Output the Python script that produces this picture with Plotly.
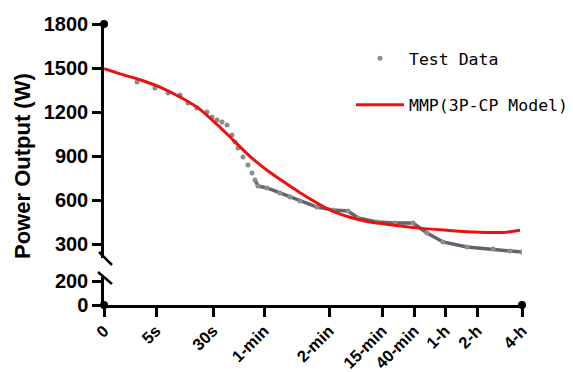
import plotly.graph_objects as go

# ---- data ----
tick_labels = ["0", "5s", "30s", "1-min", "2-min", "15-min", "40-min", "1-h", "2-h", "4-h"]
tick_pos = [0, 52, 109, 160, 225, 278, 310, 341, 373, 418]

test_x = [33, 51, 64, 76, 84, 93, 103, 108, 113, 118, 123, 128, 131, 134, 139, 144, 148, 151,
          154, 163, 176, 186, 196, 213, 229, 244, 254, 273, 291, 309, 323, 339, 363, 389, 406, 418]
test_y = [1405, 1364, 1330, 1316, 1261, 1227, 1200, 1166, 1145, 1132, 1111, 1043, 995, 955, 893, 839, 784, 736,
          695, 682, 648, 620, 593, 552, 532, 525, 477, 450, 443, 443, 375, 314, 280, 266, 252, 245]

model_x = [0, 16, 36, 56, 76, 96, 113, 129, 146, 163, 180, 196, 213, 229, 246, 263, 290, 313, 340,
           363, 385, 400, 416]
model_y = [1495, 1460, 1420, 1370, 1302, 1218, 1115, 1010, 897, 803, 722, 650, 580, 522, 482, 453, 428,
           410, 395, 384, 378, 379, 394]

upper_ticks = [300, 600, 900, 1200, 1500, 1800]
lower_ticks = [0, 200]

# ---- layout constants (page body has an 8px margin) ----
PAGE_OFF = 8
W, H = 573 - PAGE_OFF, 372 - PAGE_OFF
LEFT, RIGHT, TOP, BOTTOM = 104, 522, 24, 305          # plot box in window pixels
ML, MT = LEFT - PAGE_OFF, TOP - PAGE_OFF
MR, MB = W - (RIGHT - PAGE_OFF), H - (BOTTOM - PAGE_OFF)
PW, PH = RIGHT - LEFT, BOTTOM - TOP

def px_x(p):
    return (p - LEFT) / PW

def px_y(p):
    return (BOTTOM - p) / PH

tick_font = dict(family="Liberation Sans, Arial", size=20, color="black", weight="bold")
xtick_font = dict(family="Liberation Sans, Arial", size=16.5, color="black", weight="bold")
leg_font = dict(family="DejaVu Sans Mono, monospace", size=16.5, color="black")

fig = go.Figure()

# dense part of test data drawn as a connected line
dense_start = 17
fig.add_trace(go.Scatter(
    x=test_x[dense_start:], y=test_y[dense_start:], xaxis="x", yaxis="y2",
    mode="lines", line=dict(color="rgba(70,72,85,0.85)", width=3.5),
    showlegend=False, hoverinfo="skip"))

fig.add_trace(go.Scatter(
    x=test_x, y=test_y, xaxis="x", yaxis="y2", mode="markers",
    marker=dict(color="#8c8c8c", size=5), name="Test Data", legendgroup="a"))

fig.add_trace(go.Scatter(
    x=model_x, y=model_y, xaxis="x", yaxis="y2", mode="lines",
    line=dict(color="#ee1010", width=3, shape="spline", smoothing=0.6),
    name="MMP(3P-CP Model)", legendgroup="b"))

# axis end dots
fig.add_trace(go.Scatter(x=[0, tick_pos[-1]], y=[0, 0], xaxis="x", yaxis="y", mode="markers",
                         marker=dict(color="black", size=8), showlegend=False,
                         cliponaxis=False, hoverinfo="skip"))
fig.add_trace(go.Scatter(x=[0], y=[upper_ticks[-1]], xaxis="x", yaxis="y2", mode="markers",
                         marker=dict(color="black", size=8), showlegend=False,
                         cliponaxis=False, hoverinfo="skip"))

axis_common = dict(showline=True, linecolor="black", linewidth=2.5, ticks="outside",
                   tickcolor="black", tickwidth=2.5, ticklen=9, showgrid=False,
                   zeroline=False, automargin=False)

lower_top = 277
upper_bottom = 258

fig.update_layout(
    width=W, height=H,
    margin=dict(l=ML, r=MR, t=MT, b=MB, autoexpand=False),
    paper_bgcolor="white", plot_bgcolor="white",
    xaxis=dict(range=[0, tick_pos[-1]], tickvals=tick_pos, ticktext=tick_labels,
               tickangle=-45, tickfont=xtick_font, anchor="y", ticklabelstandoff=-2,
               **axis_common),
    yaxis=dict(domain=[0, px_y(lower_top)], range=[0, (BOTTOM - lower_top) / 0.12],
               tickvals=lower_ticks, tickfont=tick_font, anchor="x", **axis_common),
    yaxis2=dict(domain=[px_y(upper_bottom), 1],
                range=[300 - (upper_bottom - 244) * 1500 / 220, 1800],
                tickvals=upper_ticks, tickfont=tick_font, anchor="x", **axis_common),
    legend=dict(x=px_x(351), y=px_y(41), xanchor="left", yanchor="top",
                font=leg_font, bgcolor="rgba(0,0,0,0)", tracegroupgap=22,
                itemwidth=48),
    showlegend=True,
    annotations=[dict(text="Power Output (W)", x=px_x(23), y=px_y(166), xref="paper", yref="paper",
                      xanchor="center", yanchor="middle",
                      textangle=-90, showarrow=False,
                      font=dict(family="Liberation Sans, Arial", size=22, color="black",
                                weight="bold"))],
    shapes=[
        dict(type="line", xref="paper", yref="paper", x0=px_x(99), y0=px_y(252), x1=px_x(112),
             y1=px_y(265), line=dict(color="black", width=2.5)),
        dict(type="line", xref="paper", yref="paper", x0=px_x(98), y0=px_y(272), x1=px_x(112),
             y1=px_y(284), line=dict(color="black", width=2.5)),
    ],
)

fig.write_html("out.html")
